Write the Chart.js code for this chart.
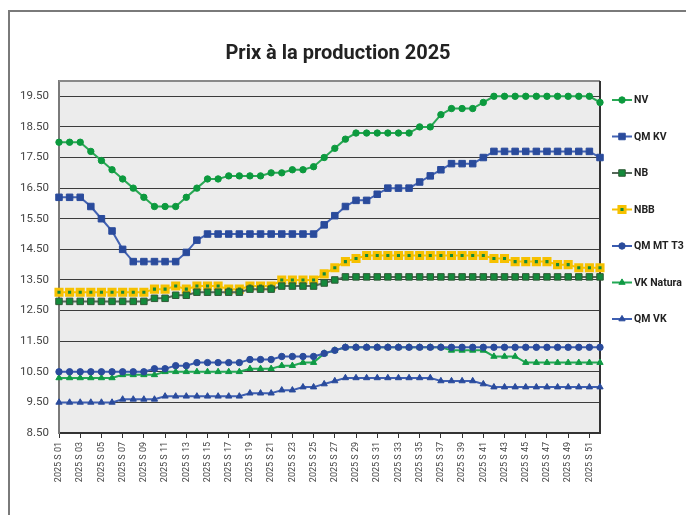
<!DOCTYPE html>
<html>
<head>
<meta charset="utf-8">
<script src="https://cdn.jsdelivr.net/npm/chart.js@4.4.1/dist/chart.umd.min.js"></script>
<style>
  html, body { margin: 0; padding: 0; background: #fff; }
  #wrap { width: 686px; height: 515px; position: relative; }
</style>
</head>
<body>
<div id="wrap"><canvas id="c" width="686" height="515"></canvas></div>
<script>
const weeks = [];
for (let w = 1; w <= 52; w++) weeks.push('2025 S ' + String(w).padStart(2, '0'));

const seriesNames = ['NV', 'QM KV', 'NB', 'NBB', 'QM MT T3', 'VK Natura', 'QM VK'];

const nv = [18.0,18.0,18.0,17.7,17.4,17.1,16.8,16.5,16.2,15.9,15.9,15.9,16.2,16.5,16.8,16.8,16.9,16.9,16.9,16.9,17.0,17.0,17.1,17.1,17.2,17.5,17.8,18.1,18.3,18.3,18.3,18.3,18.3,18.3,18.5,18.5,18.9,19.1,19.1,19.1,19.3,19.5,19.5,19.5,19.5,19.5,19.5,19.5,19.5,19.5,19.5,19.3];
const qmKv = [16.2,16.2,16.2,15.9,15.5,15.1,14.5,14.1,14.1,14.1,14.1,14.1,14.4,14.8,15.0,15.0,15.0,15.0,15.0,15.0,15.0,15.0,15.0,15.0,15.0,15.3,15.6,15.9,16.1,16.1,16.3,16.5,16.5,16.5,16.7,16.9,17.1,17.3,17.3,17.3,17.5,17.7,17.7,17.7,17.7,17.7,17.7,17.7,17.7,17.7,17.7,17.5];
const nb = [12.8,12.8,12.8,12.8,12.8,12.8,12.8,12.8,12.8,12.9,12.9,13.0,13.0,13.1,13.1,13.1,13.1,13.1,13.2,13.2,13.2,13.3,13.3,13.3,13.3,13.4,13.5,13.6,13.6,13.6,13.6,13.6,13.6,13.6,13.6,13.6,13.6,13.6,13.6,13.6,13.6,13.6,13.6,13.6,13.6,13.6,13.6,13.6,13.6,13.6,13.6,13.6];
const nbb = [13.1,13.1,13.1,13.1,13.1,13.1,13.1,13.1,13.1,13.2,13.2,13.3,13.2,13.3,13.3,13.3,13.2,13.2,13.3,13.3,13.3,13.5,13.5,13.5,13.5,13.7,13.9,14.1,14.2,14.3,14.3,14.3,14.3,14.3,14.3,14.3,14.3,14.3,14.3,14.3,14.3,14.2,14.2,14.1,14.1,14.1,14.1,14.0,14.0,13.9,13.9,13.9];
const qmMtT3 = [10.5,10.5,10.5,10.5,10.5,10.5,10.5,10.5,10.5,10.6,10.6,10.7,10.7,10.8,10.8,10.8,10.8,10.8,10.9,10.9,10.9,11.0,11.0,11.0,11.0,11.1,11.2,11.3,11.3,11.3,11.3,11.3,11.3,11.3,11.3,11.3,11.3,11.3,11.3,11.3,11.3,11.3,11.3,11.3,11.3,11.3,11.3,11.3,11.3,11.3,11.3,11.3];
const vkNatura = [10.3,10.3,10.3,10.3,10.3,10.3,10.4,10.4,10.4,10.4,10.5,10.5,10.5,10.5,10.5,10.5,10.5,10.5,10.6,10.6,10.6,10.7,10.7,10.8,10.8,11.1,11.2,11.3,11.3,11.3,11.3,11.3,11.3,11.3,11.3,11.3,11.3,11.2,11.2,11.2,11.2,11.0,11.0,11.0,10.8,10.8,10.8,10.8,10.8,10.8,10.8,10.8];
const qmVk = [9.5,9.5,9.5,9.5,9.5,9.5,9.6,9.6,9.6,9.6,9.7,9.7,9.7,9.7,9.7,9.7,9.7,9.7,9.8,9.8,9.8,9.9,9.9,10.0,10.0,10.1,10.2,10.3,10.3,10.3,10.3,10.3,10.3,10.3,10.3,10.3,10.2,10.2,10.2,10.2,10.1,10.0,10.0,10.0,10.0,10.0,10.0,10.0,10.0,10.0,10.0,10.0];

const yTickValues = [8.5, 9.5, 10.5, 11.5, 12.5, 13.5, 14.5, 15.5, 16.5, 17.5, 18.5, 19.5];

const FONT = "Roboto, 'Liberation Sans', sans-serif";

function ds(label, data, line, pFill, pBorder, style, radius, pbw) {
  return {
    label, data,
    yAxisID: 'y',
    borderColor: line, backgroundColor: line,
    borderWidth: 2,
    pointStyle: style,
    pointRadius: radius,
    pointHoverRadius: radius,
    pointBackgroundColor: pFill,
    pointBorderColor: pBorder,
    pointBorderWidth: pbw,
    tension: 0,
    clip: false
  };
}

const datasets = [
  ds(seriesNames[0], nv, '#2aa855', '#0c9a3e', '#0c9a3e', 'circle', 3.2, 1),
  ds(seriesNames[1], qmKv, '#4262b3', '#2a4b9c', '#2a4b9c', 'rect', 4.6, 1),
  ds(seriesNames[2], nb, '#56675a', '#138a3b', '#2f5a36', 'rect', 4.6, 1),
  ds(seriesNames[3], nbb, '#f6c100', '#13893a', '#f6c100', 'rect', 4.3, 3),
  ds(seriesNames[4], qmMtT3, '#3a5bb0', '#2a4b9c', '#2a4b9c', 'circle', 3.2, 1),
  ds(seriesNames[5], vkNatura, '#23a955', '#0f9a44', '#0f9a44', 'triangle', 3.6, 1),
  ds(seriesNames[6], qmVk, '#3e5fb2', '#2a4b9c', '#2a4b9c', 'triangle', 3.6, 1)
];

const framePlugin = {
  id: 'frame',
  beforeDraw(chart) {
    const { ctx, chartArea: a } = chart;
    ctx.save();
    ctx.fillStyle = '#ffffff';
    ctx.fillRect(0, 0, chart.width, chart.height);
    ctx.strokeStyle = '#7a7a7a';
    ctx.lineWidth = 2;
    ctx.beginPath();
    ctx.moveTo(9, 520);
    ctx.lineTo(9, 11);
    ctx.lineTo(690, 11);
    ctx.stroke();
    ctx.fillStyle = '#ececec';
    ctx.fillRect(a.left, a.top, a.right - a.left, a.bottom - a.top);
    ctx.restore();
  },
  beforeDatasetsDraw(chart) {
    const { ctx, chartArea: a } = chart;
    ctx.save();
    ctx.lineWidth = 2;
    ctx.strokeStyle = '#8a8a8a';
    ctx.beginPath();
    ctx.moveTo(a.left, a.top);
    ctx.lineTo(a.right, a.top);
    ctx.stroke();
    ctx.strokeStyle = '#333333';
    ctx.beginPath();
    ctx.moveTo(a.right, a.top);
    ctx.lineTo(a.right, a.bottom);
    ctx.stroke();
    ctx.restore();
  }
};

const legendPlugin = {
  id: 'sideLegend',
  afterDraw(chart) {
    const { ctx } = chart;
    const ys = [100, 136.5, 173, 209.5, 246, 282.5, 319];
    ctx.save();
    chart.data.datasets.forEach((d, i) => {
      const y = ys[i];
      ctx.strokeStyle = d.borderColor;
      ctx.lineWidth = 2;
      ctx.beginPath();
      ctx.moveTo(612, y);
      ctx.lineTo(632, y);
      ctx.stroke();
      ctx.fillStyle = d.pointBackgroundColor;
      ctx.strokeStyle = d.pointBorderColor;
      ctx.lineWidth = d.pointBorderWidth;
      Chart.helpers.drawPoint(ctx, { pointStyle: d.pointStyle, radius: d.pointRadius, rotation: 0, borderWidth: d.pointBorderWidth }, 622, y);
      ctx.fillStyle = '#222222';
      ctx.font = 'bold 10.5px ' + FONT;
      ctx.textAlign = 'left';
      ctx.textBaseline = 'middle';
      ctx.fillText(d.label, 634, y + 0.5);
    });
    ctx.restore();
  }
};

new Chart(document.getElementById('c'), {
  type: 'line',
  data: { labels: weeks, datasets },
  plugins: [framePlugin, legendPlugin],
  options: {
    responsive: false,
    animation: false,
    events: [],
    layout: { padding: { left: 0, right: 10, top: 0, bottom: 0 } },
    plugins: {
      legend: { display: false },
      tooltip: { enabled: false },
      title: {
        display: true,
        text: 'Prix à la production 2025',
        color: '#222222',
        font: { family: FONT, size: 20, weight: 'bold' },
        padding: { top: 42, bottom: 15 }
      }
    },
    scales: {
      x: {
        type: 'category',
        offset: false,
        afterFit(scale) { scale.height = 82; },
        grid: {
          display: true,
          drawOnChartArea: false,
          drawTicks: true,
          tickLength: 5,
          tickColor: (c) => (c.index % 2 === 0 ? '#333333' : 'rgba(0,0,0,0)'),
          offset: false
        },
        border: { display: true, color: '#333333', width: 2 },
        ticks: {
          autoSkip: false,
          maxRotation: 90,
          minRotation: 90,
          padding: 4,
          color: '#444444',
          font: { family: FONT, size: 9 },
          callback: (v, i) => (i % 2 === 0 ? weeks[i] : '')
        }
      },
      y: {
        min: 8.5,
        max: 20,
        afterFit(scale) { scale.width = 59; },
        afterBuildTicks(scale) { scale.ticks = yTickValues.map(v => ({ value: v })); },
        grid: { color: '#3c3c3c', lineWidth: 1, drawTicks: false },
        border: { display: true, color: '#7a7a7a', width: 2 },
        ticks: {
          padding: 10,
          color: '#444444',
          font: { family: FONT, size: 11.5 },
          callback: (v) => Number(v).toFixed(2)
        }
      },
      yRight: {
        position: 'right',
        min: 8.5,
        max: 20,
        display: true,
        afterFit(scale) { scale.width = 76; },
        grid: { display: false, drawTicks: false },
        border: { display: false },
        ticks: { display: false }
      }
    }
  }
});
</script>
</body>
</html>
